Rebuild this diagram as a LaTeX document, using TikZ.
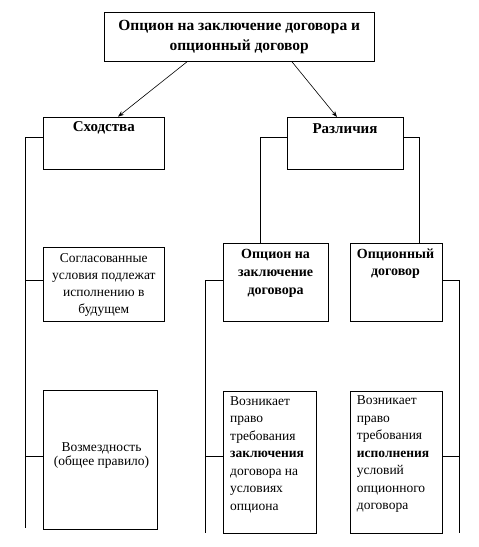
\documentclass[tikz,border=0pt]{standalone}
\usepackage{fontspec}
\setmainfont{Liberation Serif}
\usetikzlibrary{arrows.meta,calc}
\begin{document}
\begin{tikzpicture}[x=1pt,y=-1pt,
  box/.style={draw,line width=0.8pt,inner sep=0pt,anchor=north west},
  conn/.style={line width=0.8pt},
  arr/.style={line width=0.6pt,-{Stealth[length=6pt,width=4.5pt]}},
  hb/.style={inner sep=0pt,align=center,font=\bfseries\fontsize{15}{18}\selectfont},
  hm/.style={inner sep=0pt,align=center,font=\bfseries\fontsize{14}{18}\selectfont},
  tx/.style={inner sep=0pt,font=\fontsize{13.5}{17}\selectfont}]
\useasboundingbox (0,0) rectangle (479,547);
% boxes
\node[box,minimum width=269.7,minimum height=48.7] (top) at (104.3,12.3) {};
\node[inner sep=0pt,align=center,font=\bfseries\fontsize{15.5}{20}\selectfont] (topt) at (239.2,36.7)
  {Опцион на заключение договора и\\опционный договор};
\node[box,minimum width=121,minimum height=52.3] (sx) at (43.3,116.7) {};
\node[hb] (sxt) at (103.8,128.3) {Сходства};
\node[box,minimum width=115.4,minimum height=52] (raz) at (287.3,117) {};
\node[hb] (razt) at (345,128.3) {Различия};
\node[box,minimum width=121,minimum height=74] (sogl) at (43.3,247.3) {};
\node[tx,align=center] (soglt) at (103.8,285)
  {Согласованные\\условия подлежат\\исполнению в\\будущем};
\node[box,minimum width=105,minimum height=78] (opz) at (223.3,243.3) {};
\node[hm] (opzt) at (275.6,273.5) {Опцион на\\заключение\\договора};
\node[box,minimum width=91.4,minimum height=78] (opd) at (350.3,243.3) {};
\node[hm,font=\bfseries\fontsize{14}{17}\selectfont] (opdt) at (395.5,263.5) {Опционный\\договор};
\node[box,minimum width=114,minimum height=139.3] (vozm) at (43.3,390) {};
\node[tx,align=center,font=\fontsize{13.5}{14}\selectfont] (vozmt) at (101.5,456) {Возмездность\\(общее правило)};
\node[box,minimum width=92.7,minimum height=142] (v1) at (223.3,391) {};
\node[tx,align=left,anchor=west,font=\fontsize{13.5}{17.5}\selectfont] (v1t) at (230,454.5)
  {Возникает\\право\\требования\\\textbf{заключения}\\договора на\\условиях\\опциона};
\node[box,minimum width=91.4,minimum height=142] (v2) at (350.3,391) {};
\node[tx,align=left,anchor=west,font=\fontsize{13.5}{17.5}\selectfont] (v2t) at (356.7,454.5)
  {Возникает\\право\\требования\\\textbf{исполнения}\\условий\\опционного\\договора};
% coordinates
\coordinate (lb) at (25.7,528.3);
\coordinate (mb) at (205.3,532.7);
\coordinate (rb) at (459.3,532.7);
% arrows
\draw[arr] ($(top.south west)+(82.7,0)$) -- ($(sx.north west)+(74.7,0)$);
\draw[arr] ($(top.south west)+(187.7,0)$) -- ($(raz.north west)+(49.7,0)$);
% left spine
\draw[conn] ($(sx.north west)+(0,20.3)$) -| (lb);
\draw[conn] (lb |- 0,280) -- (sogl.west |- 0,280);
\draw[conn] (lb |- 0,456.7) -- (vozm.west |- 0,456.7);
% raz branches
\draw[conn] ($(raz.north west)+(0,20)$) -| (260,0 |- opz.north);
\draw[conn] ($(raz.north east)+(0,20)$) -| (419.3,0 |- opd.north);
% opz spine
\draw[conn] ($(opz.north west)+(0,36.7)$) -| (mb);
\draw[conn] (mb |- 0,456.7) -- (v1.west |- 0,456.7);
% opd spine
\draw[conn] ($(opd.north east)+(0,36.7)$) -| (rb);
\draw[conn] (rb |- 0,456.7) -- (v2.east |- 0,456.7);
\end{tikzpicture}
\end{document}
